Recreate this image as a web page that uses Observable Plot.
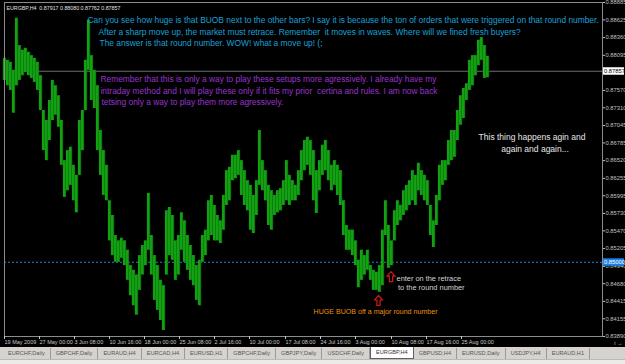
<!DOCTYPE html>
<html><head><meta charset="utf-8">
<script src="https://cdn.jsdelivr.net/npm/d3@7"></script>
<script src="https://cdn.jsdelivr.net/npm/@observablehq/plot@0.6"></script>
<style>
html,body{margin:0;padding:0;background:#000;width:625px;height:364px;overflow:hidden;font-family:"Liberation Sans",Arial,sans-serif}
#chart svg{display:block}
#tabs{height:17px;background:#d6d3ce;display:flex;align-items:flex-start;padding-left:3px;box-sizing:border-box;font-size:5.6px;color:#555;position:relative}
#tabs .tab{height:11px;line-height:11px;padding:0 5px;border-right:1px solid #9a9a9a;margin-top:1px;white-space:nowrap}
#tabs .tab.active{background:#fff;border:1px solid #606060;border-top:none;height:11px;margin-top:0;color:#333}
#tabs:after{content:"";position:absolute;left:0;right:0;bottom:0;height:4px;background:#ecebe8;border-top:1px solid #bdbab5}
</style></head><body>
<div id="chart"></div>
<div id="tabs"></div>
<script>
// ---- data ----
const header = "EURGBP,H4  0.87917 0.88080 0.87762 0.87857";
const highs = [
0.8805,0.8802,0.8799,0.8787,0.8865,0.8824,0.8817,0.8820,0.8814,0.8809,
0.8805,0.8799,0.8779,0.8727,0.8712,0.8742,0.8772,0.8764,0.8749,0.8712,
0.8652,0.8667,0.8672,0.8645,0.8630,0.8712,0.8727,0.8802,0.8862,0.8809,
0.8787,0.8764,0.8697,0.8667,0.8645,0.8592,0.8570,0.8540,0.8532,0.8536,
0.8532,0.8518,0.8495,0.8488,0.8481,0.8510,0.8525,0.8532,0.8603,0.8540,
0.8510,0.8495,0.8473,0.8465,0.8577,0.8582,0.8570,0.8532,0.8540,0.8574,
0.8562,0.8540,0.8525,0.8510,0.8495,0.8503,0.8540,0.8548,0.8592,0.8600,
0.8585,0.8570,0.8562,0.8600,0.8637,0.8642,0.8660,0.8660,0.8667,0.8652,
0.8637,0.8622,0.8615,0.8600,0.8622,0.8697,0.8652,0.8637,0.8615,0.8607,
0.8600,0.8607,0.8610,0.8622,0.8652,0.8630,0.8622,0.8615,0.8637,0.8667,
0.8682,0.8687,0.8682,0.8667,0.8637,0.8652,0.8675,0.8682,0.8667,0.8645,
0.8652,0.8645,0.8637,0.8592,0.8555,0.8548,0.8548,0.8532,0.8503,0.8518,
0.8510,0.8518,0.8495,0.8488,0.8485,0.8495,0.8548,0.8592,0.8555,0.8532,
0.8577,0.8592,0.8585,0.8607,0.8615,0.8622,0.8637,0.8630,0.8648,0.8637,
0.8630,0.8622,0.8585,0.8562,0.8600,0.8645,0.8652,0.8652,0.8682,0.8697,
0.8697,0.8727,0.8749,0.8760,0.8767,0.8802,0.8809,0.8809,0.8832,0.8836,
0.8824,0.8808];
const lows = [
0.8772,0.8764,0.8757,0.8723,0.8764,0.8772,0.8779,0.8784,0.8779,0.8775,
0.8769,0.8757,0.8727,0.8667,0.8652,0.8682,0.8712,0.8720,0.8702,0.8645,
0.8597,0.8607,0.8615,0.8592,0.8574,0.8630,0.8667,0.8727,0.8787,0.8742,
0.8730,0.8667,0.8630,0.8600,0.8592,0.8532,0.8510,0.8500,0.8500,0.8506,
0.8495,0.8473,0.8450,0.8435,0.8421,0.8458,0.8481,0.8495,0.8518,0.8481,
0.8443,0.8428,0.8413,0.8398,0.8481,0.8510,0.8503,0.8473,0.8481,0.8518,
0.8500,0.8488,0.8473,0.8465,0.8443,0.8435,0.8500,0.8510,0.8532,0.8540,
0.8532,0.8532,0.8528,0.8548,0.8585,0.8592,0.8622,0.8625,0.8630,0.8600,
0.8585,0.8577,0.8548,0.8543,0.8570,0.8615,0.8607,0.8592,0.8555,0.8548,
0.8570,0.8574,0.8577,0.8585,0.8592,0.8585,0.8592,0.8592,0.8600,0.8622,
0.8637,0.8645,0.8630,0.8592,0.8573,0.8607,0.8630,0.8637,0.8622,0.8607,
0.8615,0.8600,0.8585,0.8540,0.8518,0.8518,0.8510,0.8495,0.8462,0.8473,
0.8481,0.8488,0.8473,0.8458,0.8458,0.8455,0.8465,0.8540,0.8491,0.8495,
0.8532,0.8555,0.8562,0.8570,0.8577,0.8585,0.8592,0.8585,0.8607,0.8600,
0.8592,0.8585,0.8540,0.8522,0.8555,0.8592,0.8615,0.8622,0.8645,0.8652,
0.8657,0.8682,0.8705,0.8715,0.8742,0.8757,0.8764,0.8779,0.8794,0.8802,
0.8775,0.8776];
const bidPrice = 0.87857;
const roundNumber = 0.85000;
const xTickIdx = [0, 11.67, 23.33, 35, 46.67, 58.33, 70, 81.67, 93.67, 105.33, 117, 129, 140.67, 152.33];
const xTickLabels = ["19 May 2009","27 May 00:00","3 Jun 08:00","10 Jun 16:00","18 Jun 00:00","25 Jun 08:00","2 Jul 16:00","10 Jul 00:00","17 Jul 08:00","24 Jul 16:00","3 Aug 00:00","10 Aug 08:00","17 Aug 16:00","25 Aug 00:00"];
const yTicks = [0.88885,0.88625,0.88360,0.88095,0.87570,0.87310,0.87045,0.86785,0.86520,0.86255,0.85995,0.85730,0.85470,0.85205,0.84940,0.84680,0.84415,0.84155,0.83890];
const noteBlue = [
 "Can you see how huge is that BUOB next to the other bars? I say it is because the ton of orders that were triggered on that round number.",
 "After a sharp move up, the market must retrace. Remember  it moves in waves. Where will we fined fresh buyers?",
 "The answer is that round number. WOW! what a move up! (;"];
const notePurple = [
 "Remember that this is only a way to play these setups more agressively. I already have my",
 "intraday method and I will play these only if it fits my prior  certina and rules. I am now back",
 "tetsing only a way to play them more agressively."];
const noteWhite = ["This thing happens agin and", "again and again..."];
const noteEnter = ["enter on the retrace", "to the round number"];
const noteHuge = ["HUGE BUOB off a major round number"];
const tabs = ["EURCHF,Daily","GBPCHF,Daily","EURAUD,H4","EURCAD,H4","EURUSD,H1","GBPCHF,Daily","GBPJPY,Daily","USDCHF,Daily","EURGBP,H4","GBPUSD,H4","EURUSD,Daily","USDJPY,H4","EURAUD,H1"];
const activeTab = 8;
// anchors (bar index, price) of the chart objects
const arrowBars = [124.67, 128.83];
const arrowPrices = [0.8443, 0.84786];

// ---- chart ----
const bars = highs.map((h, i) => ({i, high: h, low: lows[i]}));
const FONT = "'Liberation Sans', Arial, sans-serif";
const arrowSymbol = {
  draw(ctx, size) {
    const r = Math.sqrt(size / Math.PI);
    ctx.moveTo(0, -1.25 * r);
    ctx.lineTo(r, -0.1 * r);
    ctx.lineTo(0.4 * r, -0.1 * r);
    ctx.lineTo(0.4 * r, 1.25 * r);
    ctx.lineTo(-0.4 * r, 1.25 * r);
    ctx.lineTo(-0.4 * r, -0.1 * r);
    ctx.lineTo(-r, -0.1 * r);
    ctx.closePath();
  }
};
const priceBoxes = (index, scales, values, dims) => {
  const y = scales.y;
  const g = d3.create("svg:g").attr("font-family", FONT).attr("font-size", 5.8).attr("text-anchor", "start");
  const x0 = dims.width - dims.marginRight + 1;
  [[bidPrice, "#ffffff", "#000000"], [roundNumber, "#1e7fe8", "#ffffff"]].forEach(([p, bg, fg]) => {
    g.append("rect").attr("x", x0).attr("y", y(p) - 3.5).attr("width", 21).attr("height", 7.5).attr("fill", bg);
    g.append("text").attr("x", x0 + 1).attr("y", y(p) + 0.3).attr("dy", "0.35em").attr("fill", fg).text(p.toFixed(5));
  });
  return g.node();
};

const chart = Plot.plot({
  width: 625, height: 347,
  marginLeft: 4, marginRight: 23, marginTop: 2, marginBottom: 11,
  style: {background: "#000", fontFamily: FONT},
  x: {domain: [0, 199.33], axis: null},
  y: {domain: [0.8389, 0.88885], axis: null},
  marks: [
    Plot.ruleY([bidPrice], {stroke: "#6e6e6e", strokeWidth: 1}),
    Plot.ruleY([roundNumber], {stroke: "#2a7fe0", strokeDasharray: "2,2"}),
    Plot.ruleX(bars, {x: "i", y1: "low", y2: "high", stroke: "#13a013", strokeWidth: 3.2}),
    Plot.ruleX(bars, {x: "i", y1: "low", y2: "high", dx: 1, stroke: "#0b7a0b", strokeWidth: 0.8}),
    Plot.frame({stroke: "#8c8c8c"}),
    Plot.axisY({anchor: "right", ticks: yTicks, tickFormat: d => d.toFixed(5), tickSize: 2, tickPadding: 1, fontSize: 5.8, color: "#c0c0c0"}),
    Plot.axisX({ticks: xTickIdx, tickFormat: d => xTickLabels[xTickIdx.indexOf(d)], tickSize: 3, tickPadding: 1, textAnchor: "start", fontSize: 5.5, color: "#c8c8c8"}),
    priceBoxes,
    Plot.text([header], {frameAnchor: "top-left", dx: 2, dy: 4, text: d => d, textAnchor: "start", fill: "#e0e0e0", fontSize: 5.3}),
    Plot.text(noteBlue, {x: [27.67, 31.33, 31.67], y: [0.88623, 0.88436, 0.88272], text: d => d, textAnchor: "start", fill: "#1aa0d8", fontSize: 8.4}),
    Plot.text(notePurple, {x: [32, 32, 32.33], y: [0.87733, 0.87554, 0.87389], text: d => d, textAnchor: "start", fill: "#9a34cc", fontSize: 8.4}),
    Plot.text(noteWhite, {x: [175.83, 176.83], y: [0.86866, 0.86686], text: d => d, textAnchor: "middle", fill: "#e6e6e6", fontSize: 8.5}),
    Plot.text(noteEnter, {x: [130.67, 131.17], y: [0.84756, 0.84622], text: d => d, textAnchor: "start", fill: "#d4d4d4", fontSize: 7.4}),
    Plot.text(noteHuge, {x: [103], y: [0.84262], text: d => d, textAnchor: "start", fill: "#e89015", fontSize: 7.1}),
    Plot.dot(arrowBars, {x: d => d, y: (d, i) => arrowPrices[i], symbol: arrowSymbol, r: 4, stroke: "#d01818", strokeWidth: 1.2, fill: "none"})
  ]
});
document.getElementById("chart").append(chart);

d3.select("#tabs").selectAll("div.tab").data(tabs).join("div")
  .attr("class", (d, i) => i === activeTab ? "tab active" : "tab")
  .text(d => d);
</script>
</body></html>
